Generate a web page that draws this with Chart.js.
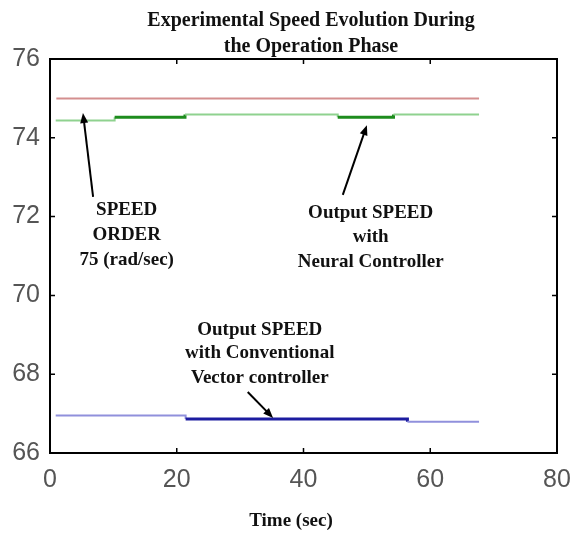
<!DOCTYPE html>
<html>
<head>
<meta charset="utf-8">
<script src="https://cdn.jsdelivr.net/npm/chart.js@4.4.0/dist/chart.umd.min.js"></script>
<style>
  html, body { margin: 0; padding: 0; background: #fff; }
  #wrap { width: 571px; height: 533px; }
</style>
</head>
<body>
<div id="wrap"><canvas id="speedChart" width="571" height="533"></canvas></div>
<script>
// Axis ticks
const xTicks = [0, 20, 40, 60, 80];
const yTicks = [66, 68, 70, 72, 74, 76];

// Speed order (rad/sec)
const orderTime = [1, 67.7];
const orderSpeed = [75, 75];

// Output speed with neural controller
const neuralTime = [0.9, 10.2, 21.3, 45.4, 54.2, 67.7];
const neuralSpeed = [74.44, 74.52, 74.59, 74.52, 74.59, 74.59];

// Output speed with conventional vector controller
const vectorTime = [0.9, 21.4, 56.4, 67.7];
const vectorSpeed = [66.95, 66.86, 66.79, 66.79];

const titleLines = ['Experimental Speed Evolution During', 'the Operation Phase'];
const xTitle = 'Time (sec)';

// text notes with their arrows, placed in data coordinates
const notes = [
  { lines: ['SPEED', 'ORDER', '75 (rad/sec)'], x: 12.1, y: [72.17, 71.53, 70.9],
    from: [6.8, 72.5], to: [5.2, 74.63] },
  { lines: ['Output SPEED', 'with', 'Neural Controller'], x: 50.6, y: [72.09, 71.48, 70.85],
    from: [46.2, 72.55], to: [50.0, 74.32] },
  { lines: ['Output SPEED', 'with Conventional', 'Vector controller'], x: 33.1, y: [69.12, 68.54, 67.9],
    from: [31.2, 67.55], to: [35.2, 66.89] }
];

const toPoints = (xs, ys) => xs.map((x, i) => ({ x: x, y: ys[i] }));

function drawArrow(ctx, x1, y1, x2, y2) {
  const ang = Math.atan2(y2 - y1, x2 - x1);
  const len = 10, half = 4;
  ctx.beginPath();
  ctx.moveTo(x1, y1);
  ctx.lineTo(x2 - Math.cos(ang) * len * 0.6, y2 - Math.sin(ang) * len * 0.6);
  ctx.stroke();
  ctx.beginPath();
  ctx.moveTo(x2, y2);
  ctx.lineTo(x2 - Math.cos(ang) * len - Math.sin(ang) * half, y2 - Math.sin(ang) * len + Math.cos(ang) * half);
  ctx.lineTo(x2 - Math.cos(ang) * len + Math.sin(ang) * half, y2 - Math.sin(ang) * len - Math.cos(ang) * half);
  ctx.closePath();
  ctx.fill();
}

// Frame, inward ticks, titles and notes
const framePlugin = {
  id: 'frame',
  afterDraw(chart) {
    const ctx = chart.ctx;
    const a = chart.chartArea;
    const xs = chart.scales.x, ys = chart.scales.y;
    ctx.save();
    ctx.strokeStyle = '#000';
    ctx.lineWidth = 2;
    ctx.strokeRect(a.left, a.top, a.right - a.left, a.bottom - a.top);

    ctx.lineWidth = 1.5;
    ctx.beginPath();
    xTicks.forEach(v => {
      const px = xs.getPixelForValue(v);
      ctx.moveTo(px, a.bottom); ctx.lineTo(px, a.bottom - 5);
      ctx.moveTo(px, a.top); ctx.lineTo(px, a.top + 5);
    });
    yTicks.forEach(v => {
      const py = ys.getPixelForValue(v);
      ctx.moveTo(a.left, py); ctx.lineTo(a.left + 5, py);
      ctx.moveTo(a.right, py); ctx.lineTo(a.right - 5, py);
    });
    ctx.stroke();

    ctx.fillStyle = '#111';
    ctx.textAlign = 'center';
    ctx.textBaseline = 'middle';
    ctx.font = 'bold 20px "Liberation Serif"';
    ctx.fillText(titleLines[0], 311, 21);
    ctx.fillText(titleLines[1], 311, 47);
    ctx.font = 'bold 19px "Liberation Serif"';
    ctx.fillText(xTitle, 291, 521);

    ctx.font = 'bold 19px "Liberation Serif"';
    notes.forEach(n => {
      const cx = xs.getPixelForValue(n.x);
      n.lines.forEach((t, i) => ctx.fillText(t, cx, ys.getPixelForValue(n.y[i])));
      ctx.strokeStyle = '#000';
      ctx.fillStyle = '#000';
      ctx.lineWidth = 2;
      drawArrow(ctx, xs.getPixelForValue(n.from[0]), ys.getPixelForValue(n.from[1]),
                     xs.getPixelForValue(n.to[0]), ys.getPixelForValue(n.to[1]));
      ctx.fillStyle = '#111';
    });
    ctx.restore();
  }
};

const tickFont = { family: '"Liberation Sans", Arial, sans-serif', size: 25 };

new Chart(document.getElementById('speedChart').getContext('2d'), {
  type: 'line',
  data: {
    datasets: [
      {
        data: toPoints(orderTime, orderSpeed),
        borderColor: '#d48f8f',
        borderWidth: 2,
        pointRadius: 0
      },
      {
        data: toPoints(neuralTime, neuralSpeed),
        stepped: 'before',
        borderColor: '#8fd28f',
        borderWidth: 2,
        pointRadius: 0,
        segment: {
          borderColor: c => (c.p0DataIndex === 1 || c.p0DataIndex === 3) ? '#1d8c1d' : undefined,
          borderWidth: c => (c.p0DataIndex === 1 || c.p0DataIndex === 3) ? 3 : undefined
        }
      },
      {
        data: toPoints(vectorTime, vectorSpeed),
        stepped: 'before',
        borderColor: '#9090dc',
        borderWidth: 2,
        pointRadius: 0,
        segment: {
          borderColor: c => c.p0DataIndex === 1 ? '#1c1ca0' : undefined,
          borderWidth: c => c.p0DataIndex === 1 ? 3 : undefined
        }
      }
    ]
  },
  options: {
    responsive: false,
    animation: false,
    layout: { padding: { top: 59, right: 14, left: 0, bottom: 0 } },
    plugins: {
      legend: { display: false },
      tooltip: { enabled: false }
    },
    scales: {
      x: {
        type: 'linear',
        min: 0,
        max: 80,
        afterBuildTicks: s => { s.ticks = xTicks.map(v => ({ value: v })); },
        afterFit: s => { s.height = 80; s.paddingLeft = 0; s.paddingRight = 0; },
        grid: { display: false, drawTicks: false },
        border: { display: false },
        ticks: { padding: 12, color: '#555', font: tickFont, maxRotation: 0 }
      },
      y: {
        type: 'linear',
        min: 66,
        max: 76,
        afterBuildTicks: s => { s.ticks = yTicks.map(v => ({ value: v })); },
        afterFit: s => { s.width = 50; s.paddingTop = 0; s.paddingBottom = 0; },
        grid: { display: false, drawTicks: false },
        border: { display: false },
        ticks: { padding: 10, color: '#555', font: tickFont }
      }
    }
  },
  plugins: [framePlugin]
});
</script>
</body>
</html>
